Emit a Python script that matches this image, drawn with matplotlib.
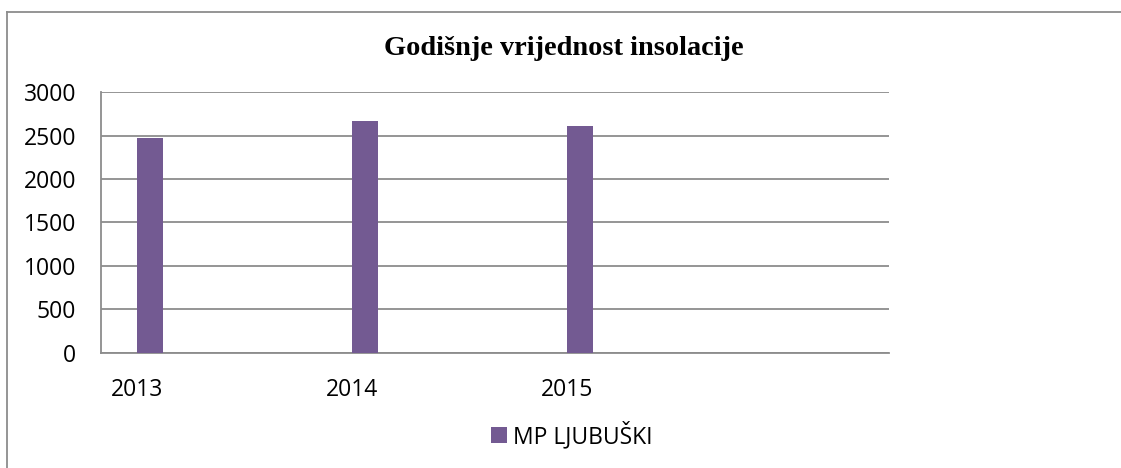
import matplotlib

matplotlib.use('Agg')
import matplotlib.pyplot as plt
from matplotlib.lines import Line2D

# data
years = ["2013", "2014", "2015"]
insolation = [2470, 2670, 2610]
series_name = "MP LJUBUŠKI"
title = "Godišnje vrijednost insolacije"
y_ticks = [0, 500, 1000, 1500, 2000, 2500, 3000]

BAR_COLOR = "#735A92"
GRID_COLOR = "#8C8C8C"

plt.rcParams['font.family'] = ['Open Sans', 'DejaVu Sans']

fig = plt.figure(figsize=(11.21, 4.68), dpi=100)
ax = fig.add_axes([0.0901, 0.2464, 0.7032, 0.5564])

xpos = list(range(len(years)))
ax.bar(xpos, insolation, width=0.121, align='edge', color=BAR_COLOR,
       label=series_name, zorder=3)

ax.set_xlim(-0.167, 3.5)
ax.set_ylim(0, 3000)
ax.set_yticks(y_ticks)
ax.set_yticklabels([str(v) for v in y_ticks])
ax.set_xticks(xpos)
ax.set_xticklabels(years)

ax.yaxis.grid(True, color=GRID_COLOR, linewidth=1.3, zorder=0)
ax.set_axisbelow(True)
for side in ("top", "right"):
    ax.spines[side].set_visible(False)
for side in ("left", "bottom"):
    ax.spines[side].set_color(GRID_COLOR)
    ax.spines[side].set_linewidth(1.3)

ax.tick_params(axis='both', length=0, labelsize=16.5, colors='black')
ax.tick_params(axis='x', pad=18)
ax.tick_params(axis='y', pad=18)

fig.text(0.503, 0.897, title, ha='center', va='center',
         family=['Liberation Serif', 'DejaVu Serif'], fontweight='bold', fontsize=20.4)

ax.legend(loc='center', bbox_to_anchor=(0.51, 0.07), bbox_transform=fig.transFigure,
          frameon=False, fontsize=16.5, handlelength=0.7, handleheight=0.7,
          handletextpad=0.3, borderpad=0)

# outer chart border (only left and top visible in the reference)
fig.add_artist(Line2D([7 / 1121, 7 / 1121], [0, 1 - 12 / 468], transform=fig.transFigure,
                      color='#8C8C8C', linewidth=1.3))
fig.add_artist(Line2D([7 / 1121, 1], [1 - 12 / 468, 1 - 12 / 468], transform=fig.transFigure,
                      color='#8C8C8C', linewidth=1.3))

fig.savefig("out.png", dpi=100, facecolor='white')
